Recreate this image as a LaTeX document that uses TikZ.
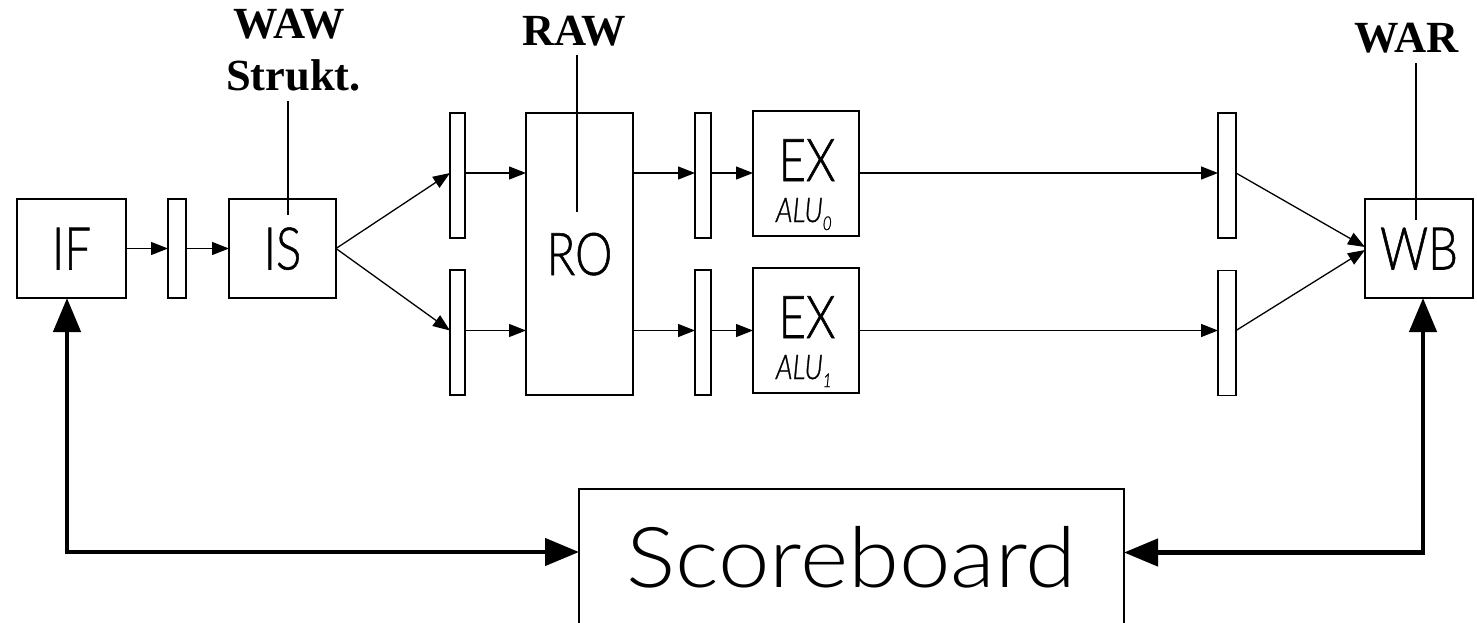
\documentclass[tikz,border=0pt]{standalone}
\usepackage{fontspec}
\newfontfamily\boxfont{Lato Light}[FakeStretch=0.8, FakeBold=0.9]
\newfontfamily\sbfont{Lato Light}[FakeStretch=1.1]
\newfontfamily\hazfont{Liberation Serif}
\usetikzlibrary{arrows.meta}
\newcommand\myalu[1]{\makebox[0pt][l]{\hspace*{-31pt}\raisebox{-41pt}{\boxfont\itshape\fontsize{34pt}{34pt}\selectfont ALU\raisebox{-8pt}{\fontsize{19pt}{19pt}\selectfont #1}}}}
\begin{document}
\begin{tikzpicture}[x=1pt,y=-1pt,
  every node/.style={inner sep=0pt, outer sep=0pt},
  stagebox/.style={draw, line width=1.3pt, font=\boxfont\fontsize{59pt}{59pt}\selectfont, text height=42pt, text depth=0pt},
  latch/.style={draw, line width=1.3pt, minimum height=125pt},
  flow/.style={line width=1.3pt, -{Triangle[length=17pt,width=13pt]}},
  ctrl/.style={line width=4.5pt, {Triangle[length=34pt,width=27pt]}-{Triangle[length=34pt,width=27pt]}},
  haz/.style={font=\hazfont\bfseries\fontsize{44.5pt}{52pt}\selectfont, anchor=base},
  hazline/.style={line width=2pt},
  exlab/.style={font=\boxfont\fontsize{59pt}{59pt}\selectfont, anchor=base}
]
\useasboundingbox (0,0) rectangle (1477,622);
% row coordinates
\coordinate (r1) at (0,173);
\coordinate (r2) at (0,330.5);
% stages
\node[stagebox, minimum width=109pt, minimum height=99pt] (IF) at (71.5,248.5) {IF};
\node[latch, minimum width=18pt, minimum height=99pt] (L1) at (177,248.5) {};
\node[stagebox, minimum width=107pt, minimum height=99pt] (IS) at (282.5,248.5) {IS};
\node[latch, minimum width=15pt] (L2a) at (457.5,175.5) {};
\node[latch, minimum width=15pt] (L2b) at (457.5,332.5) {};
\node[stagebox, minimum width=107pt, minimum height=282pt] (RO) at (579.5,254) {RO};
\node[latch, minimum width=16pt] (L3a) at (703,175.5) {};
\node[latch, minimum width=16pt] (L3b) at (703,332.5) {};
\node[draw, line width=1.3pt, minimum width=106pt, minimum height=125pt] (EX0) at (806,173.5) {};
\node[draw, line width=1.3pt, minimum width=106pt, minimum height=125pt] (EX1) at (806,330.5) {};
\node[exlab] (EX0t) at (807,181) {\makebox[0pt]{EX}\myalu{0}};
\node[exlab] (EX1t) at (807,338) {\makebox[0pt]{EX}\myalu{1}};
\node[latch, minimum width=18pt] (L4a) at (1227,175.5) {};
\node[latch, minimum width=18pt] (L4b) at (1227,333) {};
\node[stagebox, minimum width=108pt, minimum height=99pt] (WB) at (1419,248.5) {WB};
\node[draw, line width=1.3pt, minimum width=545pt, minimum height=136pt,
      font=\sbfont\fontsize{84pt}{84pt}\selectfont, text height=60pt, text depth=0pt] (SB) at (851.5,557) {Scoreboard};
% hazard labels
\node[haz] (WAW) at (289.5,38) {WAW};
\node[haz] (Strukt) at (293.5,90) {Strukt.};
\node[haz] (RAW) at (574.5,45) {RAW};
\node[haz] (WAR) at (1406.5,52) {WAR};
\coordinate (wawtop) at (288,101);
\coordinate (wawbot) at (288,215);
\coordinate (rawtop) at (577,55);
\coordinate (rawbot) at (577,212);
\coordinate (wartop) at (1416,63);
\coordinate (warbot) at (1416,220);
\draw[hazline] (wawtop) -- (wawbot);
\draw[hazline] (rawtop) -- (rawbot);
\draw[hazline] (wartop) -- (warbot);
% flow
\draw[flow] (IF.east) -- (L1.west);
\draw[flow] (L1.east) -- (IS.west);
\draw[flow] (IS.east) -- (L2a.west |- r1);
\draw[flow] (IS.east) -- (L2b.west |- r2);
\draw[flow] (L2a.east |- r1) -- (RO.west |- r1);
\draw[flow] (L2b.east |- r2) -- (RO.west |- r2);
\draw[flow] (RO.east |- r1) -- (L3a.west |- r1);
\draw[flow] (RO.east |- r2) -- (L3b.west |- r2);
\draw[flow] (L3a.east |- r1) -- (EX0.west |- r1);
\draw[flow] (L3b.east |- r2) -- (EX1.west |- r2);
\draw[flow] (EX0.east |- r1) -- (L4a.west |- r1);
\draw[flow] (EX1.east |- r2) -- (L4b.west |- r2);
\draw[flow] (L4a.east |- r1) -- ([yshift=1.5pt]WB.west);
\draw[flow] (L4b.east |- r2) -- ([yshift=-1.5pt]WB.west);
% scoreboard connections
\coordinate (c1) at (67,552);
\coordinate (c2) at (1423,552.5);
\draw[ctrl] (c1 |- IF.south) -- (c1) -- (c1 -| SB.west);
\draw[ctrl] (c2 |- WB.south) -- (c2) -- (c2 -| SB.east);
\end{tikzpicture}
\end{document}
